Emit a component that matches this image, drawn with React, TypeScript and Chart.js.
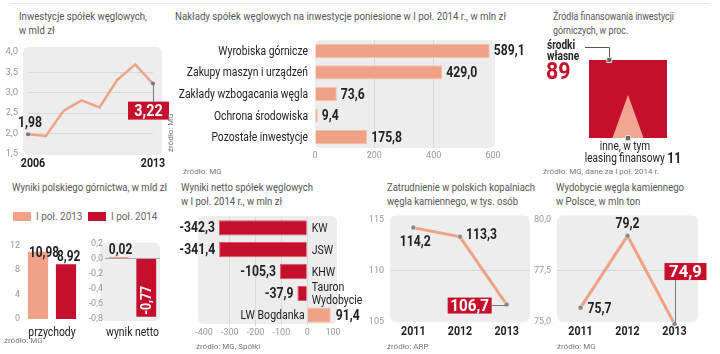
import React, { useEffect, useRef } from 'react';
import { Chart, registerables } from 'chart.js';

Chart.register(...registerables);

// ---------------- data ----------------
const investYears = ['2006', '2007', '2008', '2009', '2010', '2011', '2012', '2013'];
const investValues = [1.98, 1.94, 2.56, 2.81, 2.64, 3.31, 3.69, 3.22];
const investRange = [1.5, 4.0, 0.5];

const outlayCategories = ['Wyrobiska górnicze', 'Zakupy maszyn i urządzeń', 'Zakłady wzbogacania węgla', 'Ochrona środowiska', 'Pozostałe inwestycje'];
const outlayValues = [589.1, 429.0, 73.6, 9.4, 175.8];
const outlayRange = [0, 600, 200];

const financeLabels = [['środki', 'własne'], ['inne, w tym', 'leasing finansowy']];
const financeShares = [89, 11];

const resultSeries = ['I poł. 2013', 'I poł. 2014'];
const revenueCategory = ['przychody'];
const revenueValues = [10.98, 8.92];
const revenueRange = [0, 12, 2];
const netCategory = ['wynik netto'];
const netResultValues = [0.02, -0.77];
const netRange = [-0.8, 0.2, 0.2];

const companyNames = [['KW'], ['JSW'], ['KHW'], ['Tauron', 'Wydobycie'], ['LW Bogdanka']];
const companyNet = [-342.3, -341.4, -105.3, -37.9, 91.4];
const companyRange = [-400, 100, 100];

const employYears = ['2011', '2012', '2013'];
const employValues = [114.2, 113.3, 106.7];
const employRange = [105, 115, 5];

const outputYears = ['2011', '2012', '2013'];
const outputValues = [75.7, 79.2, 74.9];
const outputRange = [75, 80, 2.5];

const titles = [
  ['Inwestycje spółek węglowych,', 'w mld zł'],
  ['Nakłady spółek węglowych na inwestycje poniesione w I poł. 2014 r., w mln zł'],
  ['Źródła finansowania inwestycji', 'górniczych, w proc.'],
  ['Wyniki polskiego górnictwa, w mld zł'],
  ['Wyniki netto spółek węglowych', 'w I poł. 2014 r., w mln zł'],
  ['Zatrudnienie w polskich kopalniach', 'węgla kamiennego, w tys. osób'],
  ['Wydobycie węgla kamiennego', 'w Polsce, w mln ton'],
];

// ---------------- style ----------------
const RED = '#c60f2d';
const SALMON = '#f0a286';
const PLOT_BG = '#ededed';
const GRID = '#d9d9d9';
const FONT = 'Roboto, "Liberation Sans", sans-serif';
const DARK = '#222';

const fmt = (v: number, d = 1) => v.toFixed(d).replace('.', ',');

// condensed canvas text
function ctext(ctx: any, text: string, x: number, y: number, font: string, color: string, align = 'left', sx = 0.87, baseline = 'middle') {
  ctx.save();
  ctx.font = font;
  ctx.fillStyle = color;
  ctx.textAlign = align;
  ctx.textBaseline = baseline;
  ctx.translate(x, y);
  ctx.scale(sx, 1);
  ctx.fillText(text, 0, 0);
  ctx.restore();
}
function cwidth(ctx: any, text: string, font: string, sx = 0.87) {
  ctx.save();
  ctx.font = font;
  const w = ctx.measureText(text).width * sx;
  ctx.restore();
  return w;
}
const BOLD = (s: number) => `bold ${s}px ${FONT}`;
const REG = (s: number) => `${s}px ${FONT}`;

let measureCtx: any = null;
function fitScale(text: string, font: string, target: number) {
  if (!measureCtx) measureCtx = document.createElement('canvas').getContext('2d');
  measureCtx.font = font;
  const w = measureCtx.measureText(text).width;
  return w > 0 ? Math.min(1.05, target / w) : 1;
}

const plotBg = {
  id: 'plotBg',
  beforeDraw(chart: any, _a: any, o: any) {
    if (!o || !o.color) return;
    const a = chart.chartArea;
    const p = o.pad || [0, 0, 0, 0];
    const ctx = chart.ctx;
    ctx.save();
    ctx.fillStyle = o.color;
    ctx.beginPath();
    ctx.roundRect(a.left - p[0], a.top - p[1], a.width + p[0] + p[2], a.height + p[1] + p[3], o.r ?? 6);
    ctx.fill();
    ctx.restore();
  },
};
Chart.register(plotBg);

const common = (extraPlugins: any = {}) => ({
  responsive: false,
  animation: false,
  events: [],
  plugins: { legend: { display: false }, tooltip: { enabled: false }, ...extraPlugins },
});

const tickFont = { family: FONT, size: 9 };
const hideEdges = (lo: number, hi: number, color = GRID) => (c: any) => {
  const v = c.tick ? c.tick.value : 0;
  return Math.abs(v - lo) < 1e-9 || Math.abs(v - hi) < 1e-9 ? 'rgba(0,0,0,0)' : color;
};

function redBox(ctx: any, text: string, x: number, y: number, w: number, h: number, size: number, sx = 0.9) {
  ctx.save();
  ctx.fillStyle = RED;
  ctx.fillRect(x, y, w, h);
  ctx.restore();
  ctext(ctx, text, x + w / 2, y + h / 2 + 1, BOLD(size), '#fff', 'center', sx);
}

function vline(ctx: any, x: number, y1: number, y2: number) {
  ctx.save();
  ctx.strokeStyle = '#777';
  ctx.lineWidth = 1;
  ctx.beginPath();
  ctx.moveTo(Math.round(x) + 0.5, y1);
  ctx.lineTo(Math.round(x) + 0.5, y2);
  ctx.stroke();
  ctx.restore();
}

function Canvas({ x, y, w, h, make }: { x: number; y: number; w: number; h: number; make: () => any }) {
  const ref = useRef<HTMLCanvasElement>(null);
  useEffect(() => {
    const c = new Chart(ref.current as HTMLCanvasElement, make());
    return () => c.destroy();
  }, []);
  return <canvas ref={ref} width={w} height={h} style={{ position: 'absolute', left: x, top: y, width: w, height: h }} />;
}

const hiddenX = (height: number) => ({
  grid: { display: false, drawTicks: false }, border: { display: false },
  ticks: { display: false },
  afterFit: (s: any) => { s.height = height; },
});

// ---------------- chart configs ----------------
const investChart = () => ({
  type: 'line',
  data: {
    labels: investYears,
    datasets: [{
      data: investValues, borderColor: SALMON, borderWidth: 2.5, tension: 0,
      pointRadius: investValues.map((_, i) => (i === 0 || i === investValues.length - 1 ? 2 : 0)),
      pointBackgroundColor: '#777', pointBorderWidth: 0,
    }],
  },
  options: {
    ...common({ plotBg: { color: PLOT_BG, pad: [5, 5, 9, 1] } }),
    layout: { padding: { top: 7, right: 19, bottom: 0, left: 0 } },
    scales: {
      x: { offset: false, ...hiddenX(18) },
      y: {
        min: investRange[0], max: investRange[1],
        grid: { color: hideEdges(investRange[0], investRange[1]), drawTicks: false }, border: { display: false },
        afterFit: (s: any) => { s.width = 28; },
        ticks: { stepSize: investRange[2], padding: 10, color: '#999', font: { family: FONT, size: 9.5 }, callback: (v: number) => fmt(v, 1) },
      },
    },
  },
  plugins: [{
    id: 'investLabels',
    afterDatasetsDraw(chart: any) {
      const ctx = chart.ctx;
      const a = chart.chartArea;
      const xs = chart.scales.x;
      const pts = chart.getDatasetMeta(0).data;
      const p0 = pts[0];
      const pn = pts[pts.length - 1];
      const last = investYears.length - 1;
      ctext(ctx, investYears[0], xs.getPixelForValue(0) + 5, a.bottom + 10, BOLD(13), DARK, 'center', 0.82);
      ctext(ctx, investYears[last], xs.getPixelForValue(last), a.bottom + 10, BOLD(13), DARK, 'center', 0.82);
      ctext(ctx, fmt(investValues[0], 2), p0.x + 2, p0.y - 11, BOLD(14), DARK, 'center', 0.87);
      vline(ctx, pn.x, pn.y, pn.y + 18);
      redBox(ctx, fmt(investValues[last], 2), pn.x - 25, pn.y + 18, 41, 18, 16, 0.9);
    },
  }],
});

const outlayChart = () => ({
  type: 'bar',
  data: {
    labels: outlayCategories,
    datasets: [{ data: outlayValues, backgroundColor: SALMON, borderColor: '#f6c0aa', borderWidth: 1, barPercentage: 0.66, categoryPercentage: 1 }],
  },
  options: {
    ...common({ plotBg: { color: PLOT_BG, pad: [0, 0, 2, 0] } }),
    indexAxis: 'y',
    layout: { padding: { top: 4, right: 37, left: 0, bottom: 0 } },
    scales: {
      x: {
        min: outlayRange[0], max: outlayRange[1],
        grid: { color: hideEdges(outlayRange[0], outlayRange[1]), drawTicks: false }, border: { display: false },
        afterFit: (s: any) => { s.height = 14; },
        ticks: { stepSize: outlayRange[2], padding: 2, color: '#999', font: tickFont, callback: (v: number) => String(v) },
      },
      y: {
        grid: { display: false, drawTicks: false }, border: { display: false }, ticks: { display: false },
        afterFit: (s: any) => { s.width = 140; },
      },
    },
  },
  plugins: [{
    id: 'outlayLabels',
    afterDatasetsDraw(chart: any) {
      const ctx = chart.ctx;
      const a = chart.chartArea;
      const ys = chart.scales.y;
      outlayCategories.forEach((c, i) => ctext(ctx, c, a.left - 7, ys.getPixelForValue(i) + 1, REG(12), DARK, 'right', 0.86));
      chart.getDatasetMeta(0).data.forEach((b: any, i: number) => ctext(ctx, fmt(outlayValues[i], 1), b.x + 4, b.y + 1, BOLD(14), DARK, 'left', 0.87));
    },
  }],
});

const financeChart = () => {
  const h = 0.55;
  const b = (2 * (financeShares[1] / 100)) / h;
  return {
    type: 'line',
    data: {
      datasets: [
        { data: [{ x: 0, y: 1 }, { x: 1, y: 1 }], fill: 'origin', backgroundColor: RED, borderWidth: 0, pointRadius: 0, order: 3 },
        { data: [{ x: 0.5 - b / 2, y: 0 }, { x: 0.5, y: h }, { x: 0.5 + b / 2, y: 0 }], fill: 'origin', backgroundColor: '#f2a690', borderWidth: 0, pointRadius: 0, order: 2 },
        {
          data: [{ x: 0.26, y: 1 }, { x: 0.5, y: 0 }], showLine: false, clip: false, pointStyle: 'rect', order: 1,
          pointRadius: 3.5, pointBackgroundColor: '#666', pointBorderColor: '#ddd', pointBorderWidth: 1,
        },
      ],
    },
    options: {
      ...common(),
      layout: { padding: { top: 24, left: 49, right: 53, bottom: 28 } },
      scales: { x: { type: 'linear', min: 0, max: 1, display: false }, y: { min: 0, max: 1, display: false } },
    },
    plugins: [{
      id: 'financeLabels',
      beforeDatasetsDraw(chart: any) {
        const ctx = chart.ctx;
        const a = chart.chartArea;
        const m = chart.getDatasetMeta(2).data[0];
        const ly = Math.round(a.top - 13) + 0.5;
        ctx.save();
        ctx.strokeStyle = '#555';
        ctx.lineWidth = 1;
        ctx.beginPath();
        ctx.moveTo(a.left - 4, ly);
        ctx.lineTo(Math.round(m.x) + 0.5, ly);
        ctx.lineTo(Math.round(m.x) + 0.5, m.y);
        ctx.stroke();
        ctx.restore();
      },
      afterDatasetsDraw(chart: any) {
        const ctx = chart.ctx;
        const a = chart.chartArea;
        const m2 = chart.getDatasetMeta(2).data[1];
        ctext(ctx, financeLabels[0][0], a.left - 42, a.top - 14, BOLD(12), DARK, 'left', 0.84);
        ctext(ctx, financeLabels[0][1], a.left - 42, a.top - 3, BOLD(12), DARK, 'left', 0.84);
        ctext(ctx, String(financeShares[0]), a.left - 43, a.top + 13, BOLD(23), RED, 'left', 0.93);
        ctext(ctx, financeLabels[1][0], m2.x - 3, a.bottom + 9, REG(12), DARK, 'center', 0.84);
        const t1 = financeLabels[1][1] + ' ';
        const t2 = String(financeShares[1]);
        const w1 = cwidth(ctx, t1, REG(12), 0.84);
        const w2 = cwidth(ctx, t2, BOLD(14), 0.87);
        const x0 = m2.x + 5 - (w1 + w2) / 2;
        ctext(ctx, t1, x0, a.bottom + 21, REG(12), DARK, 'left', 0.84);
        ctext(ctx, t2, x0 + w1, a.bottom + 21, BOLD(14), DARK, 'left', 0.87);
      },
    }],
  };
};

const barCategoryLabel = (chart: any, text: string) => {
  const a = chart.chartArea;
  ctext(chart.ctx, text, chart.scales.x.getPixelForValue(0), a.bottom + 14, REG(13), DARK, 'center', 0.8);
};

const revenueChart = () => ({
  type: 'bar',
  data: {
    labels: revenueCategory,
    datasets: resultSeries.map((s, i) => ({ label: s, data: [revenueValues[i]], backgroundColor: i === 0 ? SALMON : RED, barPercentage: 0.72, categoryPercentage: 1 })),
  },
  options: {
    ...common(),
    layout: { padding: { top: 7, right: 8, left: 0, bottom: 0 } },
    scales: {
      x: hiddenX(23),
      y: {
        min: revenueRange[0], max: revenueRange[1], grid: { display: false, drawTicks: false }, border: { display: false },
        afterFit: (s: any) => { s.width = 24; },
        ticks: { stepSize: revenueRange[2], padding: 4, color: '#999', font: tickFont, callback: (v: number) => String(v) },
      },
    },
  },
  plugins: [{
    id: 'revLabels',
    afterDatasetsDraw(chart: any) {
      const a = chart.chartArea;
      revenueValues.forEach((v, i) => {
        const el = chart.getDatasetMeta(i).data[0];
        ctext(chart.ctx, fmt(v, 2), el.x - el.width / 2 + 1, Math.max(el.y - 3, a.top + 12), BOLD(14), DARK, 'left', 0.85, 'alphabetic');
      });
      barCategoryLabel(chart, revenueCategory[0]);
    },
  }],
});

const netChart = () => ({
  type: 'bar',
  data: {
    labels: netCategory,
    datasets: resultSeries.map((s, i) => ({ label: s, data: [netResultValues[i]], backgroundColor: i === 0 ? SALMON : RED, barPercentage: 0.72, categoryPercentage: 1 })),
  },
  options: {
    ...common({ plotBg: { color: PLOT_BG, pad: [5, 1, 0, 2] } }),
    layout: { padding: { top: 7, right: 13, left: 0, bottom: 0 } },
    scales: {
      x: hiddenX(23),
      y: {
        min: netRange[0], max: netRange[1], border: { display: false },
        grid: { drawTicks: false, color: (c: any) => (c.tick && Math.abs(c.tick.value) < 1e-9 ? '#aaa' : 'rgba(0,0,0,0)') },
        afterFit: (s: any) => { s.width = 20; },
        ticks: { stepSize: netRange[2], padding: 2, color: '#999', font: tickFont, callback: (v: number) => fmt(v, 1) },
      },
    },
  },
  plugins: [{
    id: 'netLabels',
    afterDatasetsDraw(chart: any) {
      const ctx = chart.ctx;
      const e0 = chart.getDatasetMeta(0).data[0];
      ctext(ctx, fmt(netResultValues[0], 2), e0.x - e0.width / 2, e0.y - 3, BOLD(14), DARK, 'left', 0.85, 'alphabetic');
      const e1 = chart.getDatasetMeta(1).data[0];
      ctx.save();
      ctx.translate(e1.x, e1.y - 2);
      ctx.rotate(-Math.PI / 2);
      ctext(ctx, fmt(netResultValues[1], 2), 0, 1, BOLD(14), '#fff', 'left', 0.87);
      ctx.restore();
      barCategoryLabel(chart, netCategory[0]);
    },
  }],
});

const companyChart = () => ({
  type: 'bar',
  data: {
    labels: companyNames.map((n) => n.join(' ')),
    datasets: [{
      data: companyNet, backgroundColor: companyNet.map((v) => (v < 0 ? RED : SALMON)),
      borderColor: companyNet.map((v) => (v < 0 ? '#d9586d' : '#f6c0aa')), borderWidth: 1,
      barPercentage: 0.7, categoryPercentage: 1,
    }],
  },
  options: {
    ...common({ plotBg: { color: PLOT_BG, pad: [6, 1, 4, -2] } }),
    indexAxis: 'y',
    layout: { padding: { top: 5, left: 34, right: 42, bottom: 0 } },
    scales: {
      x: {
        min: companyRange[0], max: companyRange[1],
        grid: { color: hideEdges(companyRange[0], companyRange[1]), drawTicks: false }, border: { display: false },
        afterFit: (s: any) => { s.height = 11; },
        ticks: { stepSize: companyRange[2], padding: 1, color: '#999', font: tickFont, callback: (v: number) => String(v) },
      },
      y: { display: false },
    },
  },
  plugins: [{
    id: 'companyLabels',
    afterDatasetsDraw(chart: any) {
      const ctx = chart.ctx;
      chart.getDatasetMeta(0).data.forEach((b: any, i: number) => {
        const v = companyNet[i];
        const names = companyNames[i];
        if (v < 0) {
          ctext(ctx, fmt(v, 1), b.x - 4, b.y + 1, BOLD(14), DARK, 'right', 0.87);
          if (names.length === 1) ctext(ctx, names[0], b.base + 5, b.y + 1, REG(12), DARK, 'left', 0.88);
          else names.forEach((n, k) => ctext(ctx, n, b.base + 5, b.y - 5 + k * 13, REG(12), DARK, 'left', 0.88));
        } else {
          ctext(ctx, fmt(v, 1), b.x + 5, b.y + 1, BOLD(14), DARK, 'left', 0.87);
          ctext(ctx, names[0], b.base - 3, b.y + 1, REG(12), DARK, 'right', 0.88);
        }
      });
    },
  }],
});

const lineOpts = (range: number[], yWidth: number, padRight: number, fmtTick: (v: number) => string) => ({
  ...common({ plotBg: { color: PLOT_BG, pad: [0, 4, 0, 0] } }),
  layout: { padding: { top: 6, right: padRight, left: 0, bottom: 0 } },
  scales: {
    x: { offset: true, ...hiddenX(31) },
    y: {
      min: range[0], max: range[1], grid: { color: hideEdges(range[0], range[1]), drawTicks: false }, border: { display: false },
      afterFit: (s: any) => { s.width = yWidth; },
      ticks: { stepSize: range[2], padding: 6, color: '#999', font: tickFont, callback: fmtTick },
    },
  },
});

const lineDataset = (values: number[]) => ({
  data: values, borderColor: SALMON, borderWidth: 3, tension: 0, clip: false,
  pointRadius: 2.5, pointBackgroundColor: '#888', pointBorderColor: '#fff', pointBorderWidth: 0.5,
});

const yearLabels = (chart: any, years: string[]) => {
  const a = chart.chartArea;
  years.forEach((y, i) => ctext(chart.ctx, y, chart.scales.x.getPixelForValue(i), a.bottom + 10, BOLD(13), DARK, 'center', 0.82));
};

const employChart = () => ({
  type: 'line',
  data: { labels: employYears, datasets: [lineDataset(employValues)] },
  options: lineOpts(employRange, 30, 15, (v: number) => String(v)),
  plugins: [{
    id: 'employLabels',
    afterDatasetsDraw(chart: any) {
      const ctx = chart.ctx;
      const p = chart.getDatasetMeta(0).data;
      yearLabels(chart, employYears);
      ctext(ctx, fmt(employValues[0], 1), p[0].x + 2, p[0].y + 15, BOLD(14), DARK, 'center', 0.87);
      ctext(ctx, fmt(employValues[1], 1), p[1].x + 6, p[1].y - 1, BOLD(14), DARK, 'left', 0.87);
      ctx.save();
      ctx.strokeStyle = '#777';
      ctx.lineWidth = 1;
      ctx.beginPath();
      ctx.moveTo(p[2].x - 15, Math.round(p[2].y) + 0.5);
      ctx.lineTo(p[2].x, Math.round(p[2].y) + 0.5);
      ctx.stroke();
      ctx.restore();
      redBox(ctx, fmt(employValues[2], 1), p[2].x - 59, p[2].y - 7, 44, 16, 16, 0.95);
    },
  }],
});

const outputChart = () => ({
  type: 'line',
  data: { labels: outputYears, datasets: [lineDataset(outputValues)] },
  options: lineOpts(outputRange, 27, 22, (v: number) => fmt(v, 1)),
  plugins: [{
    id: 'outputLabels',
    afterDatasetsDraw(chart: any) {
      const ctx = chart.ctx;
      const p = chart.getDatasetMeta(0).data;
      yearLabels(chart, outputYears);
      ctext(ctx, fmt(outputValues[0], 1), p[0].x + 7, p[0].y + 2, BOLD(14), DARK, 'left', 0.87);
      ctext(ctx, fmt(outputValues[1], 1), p[1].x, p[1].y - 11, BOLD(14), DARK, 'center', 0.87);
      vline(ctx, p[2].x, p[2].y - 44, p[2].y);
      redBox(ctx, fmt(outputValues[2], 1), p[2].x - 10, p[2].y - 61, 42, 17, 17, 0.98);
    },
  }],
});

// ---------------- layout helpers ----------------
const TITLE_FONT_SIZE = 11;
function Title({ lines, left, top, width }: { lines: string[]; left: number; top: number; width: number }) {
  const sx = fitScale(lines[0], `${TITLE_FONT_SIZE}px ${FONT}`, width);
  return (
    <div style={{
      position: 'absolute', left, top, fontFamily: FONT, fontSize: TITLE_FONT_SIZE, lineHeight: '13.5px', color: '#555',
      whiteSpace: 'nowrap', transform: `scaleX(${sx})`, transformOrigin: 'left top',
    }}>
      {lines.map((l, i) => <div key={i}>{l}</div>)}
    </div>
  );
}
const srcStyle = (left: number, top: number): React.CSSProperties => ({
  position: 'absolute', left, top, fontFamily: FONT, fontSize: 8, lineHeight: '10px', color: '#777', whiteSpace: 'nowrap',
});

export default function App() {
  return (
    <div style={{ position: 'absolute', left: 0, top: 0, width: 720, height: 354, background: '#fff', overflow: 'hidden' }}>
      <div style={{ position: 'absolute', left: 10, top: 3, width: 700, height: 1, background: '#e6e6e6' }} />

      {/* panel 1 */}
      <Title lines={titles[0]} left={19} top={10} width={128} />
      <Canvas x={0} y={36} w={172} h={136} make={investChart} />
      <div style={{ ...srcStyle(166, 152), transform: 'rotate(-90deg)', transformOrigin: 'left top' }}>źródło: MG</div>

      {/* panel 2 */}
      <Title lines={titles[1]} left={175} top={10} width={331} />
      <Canvas x={175} y={36} w={355} h={126} make={outlayChart} />
      <div style={srcStyle(183, 167)}>źródło: MG</div>

      {/* panel 3 */}
      <Title lines={titles[2]} left={553} top={10} width={121} />
      <Canvas x={540} y={36} w={180} h={130} make={financeChart} />
      <div style={srcStyle(543, 167)}>źródło: MG, dane za I poł. 2014 r.</div>

      {/* panel 4 */}
      <Title lines={titles[3]} left={12} top={181} width={155} />
      <div style={{ position: 'absolute', left: 13, top: 210, display: 'flex', alignItems: 'center', fontFamily: FONT, fontSize: 11, color: '#666', whiteSpace: 'nowrap' }}>
        {resultSeries.map((s, i) => (
          <span key={s} style={{ display: 'flex', alignItems: 'center', marginRight: 6 }}>
            <span style={{ display: 'inline-block', width: 18, height: 9, background: i === 0 ? SALMON : RED, marginRight: 5 }} />
            <span style={{ display: 'inline-block', transform: 'scaleX(0.9)', transformOrigin: 'left center', width: 46 }}>{s}</span>
          </span>
        ))}
      </div>
      <Canvas x={0} y={236} w={88} h={106} make={revenueChart} />
      <Canvas x={85} y={236} w={88} h={106} make={netChart} />
      <div style={srcStyle(4, 336)}>źródło: MG</div>

      {/* panel 5 */}
      <Title lines={titles[4]} left={181} top={181} width={132} />
      <Canvas x={170} y={212} w={205} h={125} make={companyChart} />
      <div style={srcStyle(196, 342)}>źródło: MG, Spółki</div>

      {/* panel 6 */}
      <Title lines={titles[5]} left={387} top={181} width={148} />
      <Canvas x={360} y={208} w={185} h={145} make={employChart} />
      <div style={srcStyle(387, 342)}>źródło: ARP</div>

      {/* panel 7 */}
      <Title lines={titles[6]} left={556} top={181} width={128} />
      <Canvas x={530} y={208} w={190} h={145} make={outputChart} />
      <div style={srcStyle(557, 342)}>źródło: MG</div>
    </div>
  );
}
